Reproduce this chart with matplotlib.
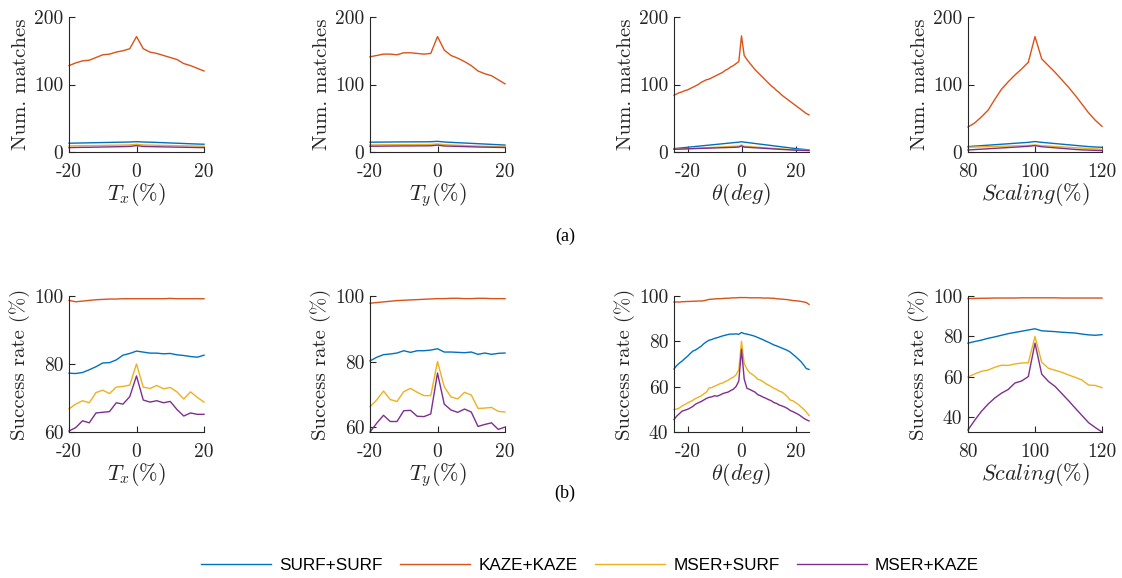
import matplotlib
matplotlib.use("Agg")
import matplotlib.pyplot as plt

plt.rcParams['font.family'] = 'cmr10'
plt.rcParams['mathtext.fontset'] = 'cm'
plt.rcParams['axes.unicode_minus'] = False
plt.rcParams['axes.formatter.use_mathtext'] = True

# Datos
series_names = ["SURF+SURF", "KAZE+KAZE", "MSER+SURF", "MSER+KAZE"]
colores = ["#0072BD", "#D95319", "#EDB120", "#7E2F8E"]

tx = [-20, -18, -16, -14, -12, -10, -8, -6, -4, -2, 0, 2, 4, 6, 8, 10, 12, 14, 16, 18, 20]
ty = [-20, -18, -16, -14, -12, -10, -8, -6, -4, -2, 0, 2, 4, 6, 8, 10, 12, 14, 16, 18, 20]
theta = list(range(-25, 26))
scaling = [80, 82, 84, 86, 88, 90, 92, 94, 96, 98, 100, 102, 104, 106, 108, 110, 112, 114, 116, 118, 120]

# (a) numero de matches
tx_surf_n = [13, 13.2, 13.4, 13.6, 13.8, 14, 14.2, 14.4, 14.6, 14.8, 15.3, 14.8, 14.5, 14.2, 13.8, 13.4, 13, 12.6, 12.2, 11.8, 11.5]
tx_kaze_n = [128, 132, 135, 136, 140, 144, 145, 148, 150, 153, 171, 153, 148, 146, 143, 140, 137, 131, 128, 124, 120]
tx_ms_n = [9, 9.2, 9.4, 9.5, 9.6, 9.8, 10, 10.1, 10.3, 10.5, 11.5, 10.4, 10.2, 10, 9.8, 9.6, 9.4, 9.2, 9, 8.8, 8.6]
tx_mk_n = [6.5, 6.7, 6.9, 7.0, 7.2, 7.4, 7.6, 7.8, 8, 8.2, 9.5, 8.2, 8, 7.8, 7.6, 7.4, 7.2, 7, 6.8, 6.6, 6.5]

ty_surf_n = [14.5, 14.6, 14.7, 14.8, 14.9, 15, 15, 15.1, 15.1, 15.2, 15.8, 14.8, 14.3, 13.8, 13.3, 12.8, 12.3, 11.8, 11.3, 10.8, 10.3]
ty_kaze_n = [141, 143, 145, 145, 144, 147, 147, 146, 145, 146, 171, 151, 143, 139, 134, 128, 120, 116, 113, 107, 101]
ty_ms_n = [10.5, 10.6, 10.7, 10.8, 10.9, 11, 11, 11.1, 11.1, 11.2, 12, 10.8, 10.4, 10, 9.6, 9.2, 8.8, 8.5, 8.2, 7.9, 7.6]
ty_mk_n = [8.5, 8.6, 8.7, 8.8, 8.9, 9, 9, 9.1, 9.1, 9.2, 10.2, 8.9, 8.6, 8.3, 8, 7.7, 7.4, 7.2, 7, 6.8, 6.6]

th_surf_n = [5.0, 5.4, 5.8, 6.2, 6.6, 7.0, 7.4, 7.8, 8.2, 8.6, 9.0, 9.4, 9.8, 10.2, 10.6, 11.0, 11.4, 11.8, 12.2, 12.6,
             13.0, 13.4, 13.8, 14.2, 14.6, 15.2, 14.6, 14.1, 13.6, 13.1, 12.6, 12.1, 11.6, 11.1, 10.6, 10.1,
             9.6, 9.1, 8.6, 8.1, 7.6, 7.1, 6.6, 6.1, 5.6, 5.1, 4.7, 4.3, 3.9, 3.5, 3.2]
th_kaze_n = [84, 86, 88, 89, 91, 92, 94, 96, 98, 100, 103, 105, 107, 108, 110, 112, 114, 116, 118, 121,
             123, 126, 128, 131, 134, 172, 143, 137, 132, 127, 122, 118, 114, 110, 106, 102,
             98, 95, 91, 88, 84, 81, 78, 75, 72, 69, 66, 63, 60, 57, 55]
th_ms_n = [4.0, 4.2, 4.4, 4.6, 4.8, 5.0, 5.2, 5.4, 5.6, 5.8, 6.0, 6.2, 6.4, 6.6, 6.8, 7.0, 7.2, 7.4, 7.6, 7.8,
           8.0, 8.2, 8.4, 8.6, 8.8, 10.5, 8.6, 8.3, 8.0, 7.7, 7.4, 7.1, 6.8, 6.5, 6.2, 5.9,
           5.6, 5.3, 5.0, 4.7, 4.4, 4.1, 3.8, 3.5, 3.3, 3.1, 2.9, 2.8, 2.7, 2.6, 2.5]
th_mk_n = [4.0, 4.1, 4.3, 4.4, 4.5, 4.7, 4.8, 4.9, 5.1, 5.2, 5.3, 5.5, 5.6, 5.7, 5.9, 6.0, 6.1, 6.3, 6.4, 6.5,
           6.7, 6.8, 6.9, 7.1, 7.3, 9.0, 7.2, 7.0, 6.8, 6.5, 6.3, 6.0, 5.8, 5.5, 5.3, 5.0,
           4.8, 4.5, 4.3, 4.0, 3.8, 3.6, 3.4, 3.2, 3.0, 2.8, 2.6, 2.5, 2.3, 2.2, 2.0]

sc_surf_n = [8, 8.7, 9.4, 10.1, 10.8, 11.5, 12.2, 12.9, 13.6, 14.3, 15.5, 14.3, 13.4, 12.5, 11.6, 10.7, 9.8, 8.9, 8, 7.4, 7]
sc_kaze_n = [37, 43, 52, 62, 78, 93, 104, 114, 123, 133, 171, 138, 128, 118, 107, 96, 84, 71, 58, 47, 38]
sc_ms_n = [7, 7.3, 7.6, 7.9, 8.2, 8.5, 8.8, 9.1, 9.4, 9.7, 10.5, 9.4, 8.8, 8.2, 7.6, 7.0, 6.4, 5.8, 5.2, 4.6, 4.2]
sc_mk_n = [3, 3.6, 4.2, 4.8, 5.4, 6, 6.6, 7.2, 7.8, 8.4, 9.5, 7.8, 7, 6.2, 5.4, 4.6, 3.8, 3.2, 2.8, 2.4, 2.0]

# (b) tasa de exito
tx_surf_r = [77.3, 77.2, 77.5, 78.3, 79.2, 80.3, 80.4, 81.2, 82.6, 83.1, 83.8, 83.5, 83.2, 83.2, 83.0, 83.1, 82.7, 82.5, 82.2, 82.0, 82.6]
tx_kaze_r = [98.7, 98.3, 98.5, 98.7, 98.9, 99.0, 99.1, 99.1, 99.2, 99.2, 99.2, 99.2, 99.2, 99.2, 99.2, 99.3, 99.2, 99.2, 99.2, 99.2, 99.2]
tx_ms_r = [66.8, 68.2, 69.2, 68.6, 71.6, 72.3, 71.3, 73.2, 73.4, 73.8, 80.0, 73.2, 72.8, 73.7, 72.7, 73.1, 71.8, 69.7, 71.8, 70.2, 68.8]
tx_mk_r = [60.3, 61.3, 63.3, 62.7, 65.6, 65.8, 66.0, 68.6, 68.2, 70.4, 76.5, 69.4, 68.8, 69.2, 68.6, 69.0, 66.6, 64.7, 65.6, 65.2, 65.2]

ty_surf_r = [80.2, 81.3, 82.1, 82.3, 82.6, 83.3, 82.8, 83.3, 83.3, 83.5, 83.9, 82.9, 82.9, 82.8, 82.7, 82.9, 82.2, 82.6, 82.2, 82.5, 82.6]
ty_kaze_r = [97.8, 98.0, 98.2, 98.4, 98.6, 98.7, 98.8, 98.9, 99.0, 99.1, 99.2, 99.2, 99.3, 99.3, 99.2, 99.2, 99.3, 99.3, 99.2, 99.2, 99.2]
ty_ms_r = [66.2, 68.3, 71.0, 68.4, 67.8, 70.8, 71.8, 70.6, 69.6, 69.6, 80.0, 72.3, 69.2, 68.6, 70.6, 69.8, 65.7, 65.8, 66.0, 64.8, 64.6]
ty_mk_r = [58.5, 61.2, 63.6, 61.7, 61.7, 65.0, 65.1, 63.3, 63.2, 64.0, 76.5, 67.0, 65.2, 64.5, 65.5, 64.6, 60.2, 60.8, 61.3, 59.3, 60.0]

th_surf_r = [67.8, 69.3, 70.4, 71.3, 72.4, 73.4, 74.6, 75.7, 76.2, 77.0, 77.8, 78.9, 79.8, 80.5, 80.8, 81.3, 81.6, 82.0, 82.4, 82.7,
             83.0, 83.2, 83.2, 83.3, 83.1, 83.9, 83.4, 83.2, 82.9, 82.6, 82.2, 81.7, 81.2, 80.7, 80.1, 79.6,
             79.0, 78.4, 78.0, 77.5, 77.0, 76.5, 76.0, 75.3, 74.3, 73.3, 72.2, 71.1, 69.6, 68.0, 67.6]
th_kaze_r = [97.3, 97.4, 97.3, 97.5, 97.5, 97.6, 97.6, 97.7, 97.7, 97.8, 97.8, 97.9, 98.2, 98.5, 98.6, 98.7, 98.8, 98.8, 98.9, 99.0,
             99.0, 99.1, 99.2, 99.2, 99.3, 99.3, 99.3, 99.3, 99.2, 99.2, 99.2, 99.2, 99.2, 99.1, 99.1, 99.1,
             99.0, 99.0, 98.8, 98.7, 98.6, 98.5, 98.4, 98.2, 98.0, 97.9, 97.8, 97.6, 97.4, 97.1, 96.3]
th_ms_r = [49.9, 50.1, 50.6, 51.5, 52.1, 52.8, 53.4, 54.0, 54.8, 55.3, 55.9, 56.8, 57.6, 59.4, 59.6, 60.2, 60.7, 61.3, 61.6, 62.3,
           62.8, 63.6, 64.2, 65.2, 67.5, 80.0, 70.2, 67.8, 66.2, 65.4, 64.5, 63.3, 62.9, 62.2, 61.3, 60.7,
           60.0, 59.3, 58.8, 58.0, 57.6, 56.7, 55.6, 54.1, 53.8, 53.0, 52.2, 51.1, 50.1, 48.8, 47.3]
th_mk_r = [45.5, 47.0, 48.1, 49.2, 49.6, 50.0, 50.6, 51.3, 52.3, 52.9, 53.4, 54.1, 54.8, 55.3, 55.5, 56.0, 55.8, 56.3, 56.9, 57.3,
           57.6, 58.3, 58.9, 60.1, 62.5, 76.5, 63.4, 59.3, 58.8, 58.2, 57.6, 56.5, 56.0, 55.4, 54.9, 54.3,
           53.8, 53.0, 52.6, 51.9, 51.5, 51.0, 50.4, 49.5, 49.0, 48.4, 47.8, 47.0, 46.1, 45.4, 44.9]

sc_surf_r = [76.7, 77.5, 78.2, 79.1, 79.8, 80.6, 81.4, 82.0, 82.6, 83.2, 83.8, 82.8, 82.6, 82.4, 82.1, 81.9, 81.7, 81.2, 80.8, 80.6, 80.9]
sc_kaze_r = [98.7, 98.8, 98.9, 98.9, 99.0, 99.0, 99.0, 99.0, 99.1, 99.1, 99.1, 99.1, 99.1, 99.1, 99.0, 99.0, 99.0, 99.0, 99.0, 99.0, 99.0]
sc_ms_r = [60.0, 61.5, 62.8, 63.4, 64.8, 65.8, 65.7, 66.4, 66.9, 67.0, 80.0, 67.3, 64.3, 63.3, 62.3, 61.0, 59.8, 58.5, 56.0, 55.8, 54.7]
sc_mk_r = [33.8, 38.6, 43.0, 46.6, 49.6, 52.0, 53.8, 57.0, 58.0, 60.2, 76.7, 61.4, 57.8, 55.3, 51.8, 48.3, 44.6, 41.0, 37.4, 35.0, 32.8]

gris = "#262626"
W, H = 1122, 578
fig = plt.figure(figsize=(W / 100, H / 100), dpi=100)


def ejes(x0, x1, y0, y1):
    return fig.add_axes([x0 / W, 1 - y1 / H, (x1 - x0) / W, (y1 - y0) / H])


def estilo(ax, xlim, xticks, ylim, yticks, xlabel, ylabel):
    ax.set_xlim(xlim)
    ax.set_ylim(ylim)
    ax.set_xticks(xticks, [str(t) for t in xticks])
    ax.set_yticks(yticks, [str(t) for t in yticks])
    for s in ["top", "right"]:
        ax.spines[s].set_visible(False)
    for s in ["left", "bottom"]:
        ax.spines[s].set_color(gris)
        ax.spines[s].set_linewidth(0.8)
    ax.tick_params(direction="in", length=4, width=0.8, color=gris, labelcolor=gris,
                   labelsize=14)
    ax.tick_params(axis="x", pad=8)
    ax.tick_params(axis="y", pad=4)
    ax.set_xlabel(xlabel, fontsize=16, color=gris, labelpad=0)
    ax.set_ylabel(ylabel, fontsize=15, color=gris, labelpad=3)


cols_x = [(69, 204), (370, 505), (674, 809), (968, 1102)]

paneles_a = [
    (tx, [tx_surf_n, tx_kaze_n, tx_ms_n, tx_mk_n], (-20, 20), [-20, 0, 20], r"$T_x(\%)$"),
    (ty, [ty_surf_n, ty_kaze_n, ty_ms_n, ty_mk_n], (-20, 20), [-20, 0, 20], r"$T_y(\%)$"),
    (theta, [th_surf_n, th_kaze_n, th_ms_n, th_mk_n], (-25, 25), [-20, 0, 20], r"$\theta(deg)$"),
    (scaling, [sc_surf_n, sc_kaze_n, sc_ms_n, sc_mk_n], (80, 120), [80, 100, 120], r"$Scaling(\%)$"),
]
paneles_b = [
    (tx, [tx_surf_r, tx_kaze_r, tx_ms_r, tx_mk_r], (-20, 20), [-20, 0, 20], (60, 100), [60, 80, 100], r"$T_x(\%)$"),
    (ty, [ty_surf_r, ty_kaze_r, ty_ms_r, ty_mk_r], (-20, 20), [-20, 0, 20], (58.5, 100), [60, 80, 100], r"$T_y(\%)$"),
    (theta, [th_surf_r, th_kaze_r, th_ms_r, th_mk_r], (-25, 25), [-20, 0, 20], (40, 100), [40, 60, 80, 100], r"$\theta(deg)$"),
    (scaling, [sc_surf_r, sc_kaze_r, sc_ms_r, sc_mk_r], (80, 120), [80, 100, 120], (32.8, 100), [40, 60, 80, 100], r"$Scaling(\%)$"),
]

for (x0, x1), (xs, ys, xl, xt, lab) in zip(cols_x, paneles_a):
    ax = ejes(x0, x1, 17, 152)
    for y, c in zip(ys, colores):
        ax.plot(xs, y, color=c, lw=1.0, clip_on=False)
    estilo(ax, xl, xt, (0, 200), [0, 100, 200], lab, "Num. matches")

lineas = []
for (x0, x1), (xs, ys, xl, xt, yl, yt, lab) in zip(cols_x, paneles_b):
    ax = ejes(x0, x1, 296, 432)
    lineas = []
    for y, c, n in zip(ys, colores, series_names):
        l, = ax.plot(xs, y, color=c, lw=1.0, label=n, clip_on=False)
        lineas.append(l)
    estilo(ax, xl, xt, yl, yt, lab, "Success rate (%)")

fig.text(565 / W, 1 - 236 / H, "(a)", ha="center", va="center", fontsize=13, family="Liberation Serif")
fig.text(565 / W, 1 - 493 / H, "(b)", ha="center", va="center", fontsize=13, family="Liberation Serif")

fig.legend(lineas, series_names, loc="center", bbox_to_anchor=(590 / W, 1 - 565 / H), ncol=4,
           frameon=False, prop={"family": "Liberation Sans", "size": 12.3},
           handlelength=4.1, handletextpad=0.5, columnspacing=1.0, borderaxespad=0)

fig.savefig("out.png", dpi=100)
